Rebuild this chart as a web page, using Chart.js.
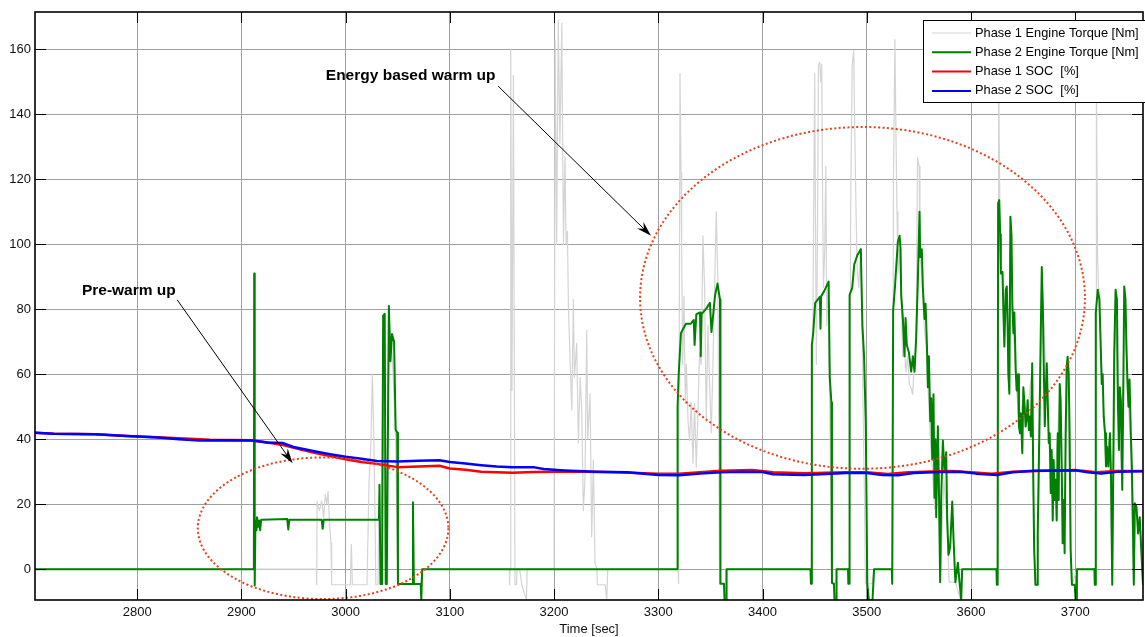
<!DOCTYPE html>
<html>
<head>
  <meta charset="UTF-8">
  <title>Engine Torque and SOC</title>
  <script src="https://cdn.jsdelivr.net/npm/chart.js"></script>
  <style>
    body { margin: 0; background: #fff; }
    #wrap { width: 1145px; height: 637px; }
  </style>
</head>
<body>
  <div id="wrap"><canvas id="torqueChart" width="1145" height="637"></canvas></div>

  <script>
    // [time sec, value] samples per series
    const phase1Torque = [
      [2702, 0], [2972, 0], [2972.3, -4.8], [2972.6, 20.8], [2975, 18], [2977, 21], [2979, 16], [2980.5, 23],
      [2982, 20], [2983.2, 23.9], [2984.5, 15], [2986, 8], [2986.6, -4.8], [3004.5, -4.8], [3005.5, 7.6],
      [3006.5, -4.8], [3020.5, -4.8], [3022.5, 27], [3024.3, 39], [3025.7, 60.1], [3027, 41.6], [3028, 20.7],
      [3029, -4.8], [3031, -4.8], [3032, 20], [3033.5, -4.6], [3036, 70], [3038.5, -4.6], [3041.5, 75],
      [3044.5, 68], [3048, 40], [3050.2, -4.6], [3072, -4.6], [3073.5, 0], [3157, 0], [3157.3, -4.8],
      [3157.8, 0], [3158.4, 160], [3159.6, 55], [3161, 152], [3162.5, -4.8], [3164, -4.8], [3164.5, 0],
      [3167, 0], [3169, -4.8], [3173.5, -9.5], [3174.2, 0], [3200, 0], [3201, 162.8], [3202.5, 100],
      [3204, 169], [3205.6, 131], [3207.4, 168], [3209, 100], [3210.5, 127], [3211.5, 100], [3212.8, 104],
      [3213.8, 80], [3215.4, 64], [3217, 49], [3218.5, 83], [3219.5, 59], [3221.7, 69.5], [3223.3, 38.8],
      [3225, 59], [3226.5, 49], [3228.1, 18], [3229.7, 28.5], [3231.3, 73.6], [3232.3, 40], [3234.5, 54],
      [3236.1, 10], [3237.7, 33.6], [3239.3, 1.8], [3241, 0], [3241.5, -4.8], [3249, -4.8], [3250.5, -9.5],
      [3251.5, 0], [3319, 0], [3319.3, -4.5], [3319.6, -4.5], [3320.8, 152.6], [3321.8, 122], [3322.4, 98.5],
      [3323.4, 63], [3324.6, 84], [3325.9, 51], [3326.9, 63], [3328.5, 45.5], [3330, 39.6], [3331.6, 51.4],
      [3333.2, 32.6], [3334.8, 51], [3336.4, 31.4], [3338, 47.9], [3339.6, 66.7], [3341.2, 63], [3342.8, 102.6],
      [3344.4, 86.7], [3346, 45.5], [3347.6, 75], [3349.2, 57], [3350.8, 42], [3352.4, 63], [3354, 86.7],
      [3355.6, 110], [3357.2, 88], [3358.8, -4.5], [3363, -4.5], [3364, -9.5], [3365, 0], [3446, 0],
      [3446.5, -4.5], [3450, 152.6], [3451.6, 63], [3452.6, 98.5], [3453.6, 155], [3454.9, 156], [3455.8, 150],
      [3456.8, 155.5], [3457.4, 122], [3458.4, 86.7], [3459.7, 98.5], [3460.7, 124], [3461.6, 75],
      [3463.2, 86.7], [3463.8, 63], [3464.4, 51.4], [3465.4, 24], [3466.3, -4.5], [3470, -4.5], [3471, 0],
      [3483, 0], [3483.3, -4.5], [3484.5, 110], [3486, 155], [3487.5, 159.6], [3488.5, 133.8], [3489.7, 110],
      [3490.7, 92.6], [3492.3, 86.7], [3493.9, 98.5], [3495.5, 75], [3496.4, 51], [3497.7, 24], [3498.7, -4.5],
      [3505, -4.5], [3507, 0], [3524.5, 0], [3524.8, -4.5], [3525.6, 120], [3527, 163], [3528, 133.8],
      [3529, 110], [3529.9, 91], [3531.2, 98.5], [3532.8, 86.7], [3534.4, 65.5], [3536, 69], [3537.6, 60.8],
      [3539.2, 65.5], [3540.8, 57], [3542.4, 55.8], [3544, 53.8], [3545.6, 63], [3547.2, 69], [3548.7, 126.7],
      [3550.3, 124], [3551, 96], [3553, 90], [3555, 75], [3557.5, 67], [3559, 54], [3561, 40], [3563, 30],
      [3565, 18.5], [3567, 35], [3569, 20], [3570.5, -4], [3574, 28], [3577, 14], [3579, -4], [3585, -4],
      [3590, -9.5], [3591.5, 0], [3626, 0], [3626.3, -4.8], [3626.6, 155], [3627.4, 120], [3628.3, 95],
      [3630, 90], [3632, 72], [3634, 85], [3636, 58], [3638, 104], [3640, 78], [3643, 58], [3646, 45],
      [3650, 52], [3654, 48], [3658, 60], [3660, 20], [3661.5, -4.8], [3664, -4.8], [3668, 88], [3672, 60],
      [3676, 30], [3680, 25], [3685, 52], [3689, 10], [3692.5, 60], [3695.5, 5], [3697, -4.8], [3701.6, 0],
      [3719.8, 0], [3720, -4.8], [3720.3, 148], [3721.5, 95], [3723, 80], [3726, 58], [3729, 35], [3733, 40],
      [3735.5, -4.8], [3738.7, 82], [3741, 50], [3745, 26], [3747, 84], [3750, 55], [3753, 40], [3756, -4.8],
      [3758, 18], [3762, 14], [3765, -4.8]
    ];

    const phase2Torque = [
      [2702, 0], [2912, 0], [2912.3, 91], [2912.8, -5], [2913.5, 15], [2914.5, 12], [2915, 16], [2916, 13],
      [2917, 15], [2918, 12], [2919, 15.2], [2944, 15.4], [2945, 12.2], [2946, 15.2], [2977, 15.2],
      [2978, 12.4], [2979, 15.2], [3032, 15.2], [3032.5, 26], [3033.5, -4.6], [3035, -4.6], [3036, 78],
      [3037.5, 78.6], [3038.5, -4.6], [3039.5, -4.6], [3041.5, 81], [3043, 64], [3044.5, 72.4], [3046.5, 70],
      [3048, 43], [3049.5, 42], [3050.2, -4.6], [3064, -4.6], [3064.6, 20.6], [3065.5, -4.6], [3072, -4.6],
      [3072.6, -9.5], [3073.5, 0], [3318, 0], [3318.5, 50], [3319.5, 59.6], [3321.7, 72.6], [3323.5, 73.8],
      [3326.5, 75.5], [3331, 75.5], [3334, 76.7], [3334.8, 69], [3336.5, 78.5], [3340, 79], [3340.7, 65.5],
      [3341.5, 78.5], [3346, 80.2], [3349.5, 82], [3351, 73], [3354.5, 84.4], [3356.8, 87.9], [3358.3, 84.7],
      [3359.2, 83], [3359.6, -4.5], [3363, -4.5], [3363.5, -9.5], [3365, -9.5], [3365.5, 0], [3446, 0],
      [3446.4, -4.5], [3447, -4.5], [3447.3, 69], [3448.6, 72.6], [3450.5, 82], [3455, 83.8], [3455.6, 74],
      [3456.2, 84], [3459, 85.5], [3463.4, 88.5], [3464.5, 59], [3466, 51.4], [3466.6, -4.2], [3468.5, -4.5],
      [3469, -9.5], [3470.5, -9.5], [3471, 0], [3482, 0], [3482.3, -4.5], [3483.2, -4.5], [3483.5, 84.4],
      [3486, 86.5], [3488, 93.8], [3491, 96.7], [3494.3, 98.5], [3495.8, 75], [3497.4, 65.5], [3499, 45.5],
      [3500.5, -4.5], [3502, -9.5], [3505.5, -9.5], [3507, 0], [3524, 0], [3524.4, -4.5], [3525, -4.5],
      [3525.3, 79.6], [3527, 86.7], [3529.8, 100.8], [3531.5, 102.6], [3532.4, 98.5], [3533, 84.5],
      [3534.6, 77.3], [3536.2, 65.5], [3537.2, 77.3], [3538.4, 69], [3540.4, 66.7], [3542.6, 60.8],
      [3544.2, 65.5], [3545.8, 60.8], [3547.4, 71.4], [3549, 89], [3550.6, 110], [3551.2, 96], [3552.8, 98.5],
      [3553.8, 86.7], [3555.4, 77], [3556.4, 81.7], [3557.7, 69], [3558.6, 56], [3559.6, 65.5], [3560.9, 45.5],
      [3561.8, 52.6], [3562.8, 33.8], [3564, 53.8], [3565, 22], [3565.9, 40], [3566.6, 16], [3568.2, 44],
      [3569.1, 28], [3570.4, -4], [3571.4, 22], [3573, 39.6], [3574.6, 30], [3576.2, 36], [3577.1, 16],
      [3578.4, 4.4], [3580, 6.8], [3582, 20.8], [3583.2, 9.6], [3585, -4], [3587.4, 2], [3589, -4],
      [3590.6, -9.5], [3591.5, 0], [3624.4, 0], [3624.8, -4.8], [3625.5, -4.8], [3626, 112.6], [3627, 113.6],
      [3628, 103], [3628.6, 91], [3630.2, 91.5], [3631.2, 77.7], [3632, 68.5], [3633.3, 86], [3634.3, 87],
      [3635.2, 74.7], [3635.8, 60.3], [3636.8, 54], [3637.8, 108.5], [3638.8, 103], [3639.7, 80.8],
      [3640.7, 72.6], [3641.6, 79], [3642.9, 61.3], [3643.8, 55], [3645.1, 60], [3646, 43.9], [3647, 41.8],
      [3647.9, 48], [3649.2, 35.7], [3650.2, 56], [3651.1, 52], [3652.4, 43.9], [3653.3, 46], [3654.3, 52],
      [3655.5, 42.8], [3656.5, 47], [3657.4, 40.8], [3658.7, 63.4], [3659.6, 31.6], [3660.6, 6], [3661.8, -4.8],
      [3663.4, -4.8], [3664, 11], [3665, 31.6], [3666, 52], [3666.9, 72.6], [3667.9, 93], [3668.9, 81],
      [3669.8, 62.6], [3670.8, 44], [3671.7, 54.4], [3672.7, 63.4], [3673.6, 52], [3674.6, 38.8], [3675.5, 41.8],
      [3676.5, 23.4], [3677.4, 36.7], [3678.4, 15], [3679.3, 33.6], [3680.3, 21.3], [3681.2, 27.5], [3682.2, 15],
      [3683.2, 41.8], [3684.1, 21.3], [3685.1, 57], [3686, 52], [3687, 31.6], [3687.9, 8], [3688.9, 21.3],
      [3689.8, 4.9], [3690.8, 41.8], [3691.8, 62.4], [3692.7, 65.4], [3693.7, 60.3], [3694.6, 41.8],
      [3695.6, 5.9], [3696.8, -4.8], [3699.5, -4.8], [3700.3, -9.5], [3701, -9.5], [3701.6, 0], [3718.4, 0],
      [3718.7, -4.8], [3719.3, -4.8], [3719.7, 78.8], [3721.6, 86], [3723.2, 83], [3724.1, 72.6], [3725.4, 57],
      [3726.3, 60], [3727.3, 47], [3728.6, 41.8], [3729.5, 31.6], [3730.5, 37.7], [3731.7, 31.6], [3733.3, 41.8],
      [3734.3, 28.5], [3735.5, -4.8], [3736.5, 31.6], [3737.4, 66.5], [3738.7, 86], [3740, 83], [3740.9, 52],
      [3741.9, 36.7], [3742.8, 56], [3743.8, 52], [3745.1, 24.4], [3746, 52], [3747, 87], [3748.2, 83],
      [3749.2, 67.5], [3750.2, 57], [3751.1, 50], [3752.1, 58.4], [3753.3, 41.8], [3754.3, 31.6], [3755.2, 16],
      [3756.2, -4.8], [3757.1, 20.3], [3758.7, 19.3], [3760.3, 11], [3761.9, 16], [3763.5, 4.9], [3765, -4.8]
    ];

    const phase1Soc = [
      [2702, 42.0], [2720, 41.7], [2760, 41.5], [2790, 41.0], [2820, 40.6], [2850, 40.1], [2870, 39.8],
      [2910, 39.7], [2925, 39.0], [2940, 38.2], [2955, 37.0], [2970, 35.8], [2985, 34.8], [3000, 33.8],
      [3015, 33.0], [3030, 32.4], [3050, 31.4], [3070, 31.6], [3090, 31.8], [3100, 31.0], [3115, 30.6],
      [3130, 30.0], [3145, 29.8], [3160, 29.7], [3180, 29.9], [3200, 30.0], [3230, 30.0], [3260, 29.8],
      [3300, 29.4], [3320, 29.4], [3340, 29.8], [3360, 30.3], [3390, 30.5], [3410, 29.8], [3440, 29.5],
      [3480, 29.8], [3500, 29.8], [3520, 29.3], [3540, 29.8], [3580, 30.2], [3600, 29.8], [3620, 29.4],
      [3640, 30.0], [3680, 30.4], [3700, 30.5], [3720, 29.8], [3740, 30.2], [3765, 30.2]
    ];

    const phase2Soc = [
      [2702, 42.0], [2720, 41.7], [2760, 41.5], [2790, 41.0], [2820, 40.5], [2840, 40.0], [2860, 39.6],
      [2880, 39.7], [2910, 39.6], [2925, 39.0], [2940, 38.8], [2950, 37.6], [2970, 36.3], [2985, 35.4],
      [3000, 34.6], [3015, 34.0], [3030, 33.3], [3050, 33.1], [3070, 33.4], [3090, 33.5], [3100, 33.0],
      [3115, 32.5], [3130, 32.0], [3145, 31.6], [3160, 31.4], [3180, 31.4], [3190, 30.8], [3210, 30.4],
      [3240, 30.0], [3270, 29.8], [3300, 29.0], [3320, 28.9], [3340, 29.4], [3360, 29.8], [3380, 30.0],
      [3400, 29.9], [3410, 29.2], [3440, 29.0], [3460, 29.3], [3480, 29.6], [3500, 29.6], [3515, 29.0],
      [3530, 28.9], [3545, 29.6], [3570, 29.9], [3590, 30.0], [3605, 29.4], [3625, 29.0], [3640, 29.8],
      [3660, 30.3], [3700, 30.4], [3712, 29.8], [3725, 29.4], [3740, 30.0], [3765, 30.1]
    ];

    const seriesNames = ['Phase 1 Engine Torque [Nm]', 'Phase 2 Engine Torque [Nm]', 'Phase 1 SOC  [%]', 'Phase 2 SOC  [%]'];
    const xTicks = [2800, 2900, 3000, 3100, 3200, 3300, 3400, 3500, 3600, 3700];
    const yTicks = [0, 20, 40, 60, 80, 100, 120, 140, 160];

    const FONT = "Arial, 'Liberation Sans', sans-serif";
    const colors = ['#d4d4d4', '#008000', '#ff0000', '#0000ff'];
    const widths = [1.2, 2, 2.5, 2.5];

    // dotted ellipses and arrows, in data units
    const notes = {
      ellipses: [
        { cx: 2978.4, cy: 12.6, rx: 120.2, ry: 21.8 },
        { cx: 3495.9, cy: 83.5, rx: 213.4, ry: 52.6 }
      ],
      labels: [
        { text: 'Energy based warm up', x: 2981, y: 151.8, from: [3146.3, 148.7], to: [3293, 102.6] },
        { text: 'Pre-warm up', x: 2747, y: 85.7, from: [2838.4, 82.9], to: [2949.2, 32.6] }
      ]
    };

    const toPoints = arr => arr.map(([x, y]) => ({ x, y }));

    const notesPlugin = {
      id: 'notes',
      afterDatasetsDraw(chart) {
        const { ctx, scales: { x, y } } = chart;
        ctx.save();
        // dotted ellipses
        ctx.strokeStyle = '#e4401c';
        ctx.lineWidth = 2;
        ctx.setLineDash([2, 2.4]);
        notes.ellipses.forEach(e => {
          const cx = x.getPixelForValue(e.cx), cy = y.getPixelForValue(e.cy);
          const rx = Math.abs(x.getPixelForValue(e.cx + e.rx) - cx);
          const ry = Math.abs(y.getPixelForValue(e.cy + e.ry) - cy);
          ctx.beginPath();
          ctx.ellipse(cx, cy, rx, ry, 0, 0, Math.PI * 2);
          ctx.stroke();
        });
        ctx.setLineDash([]);

        // arrows with labels
        notes.labels.forEach(n => {
          const x0 = x.getPixelForValue(n.from[0]), y0 = y.getPixelForValue(n.from[1]);
          const x1 = x.getPixelForValue(n.to[0]), y1 = y.getPixelForValue(n.to[1]);
          const ang = Math.atan2(y1 - y0, x1 - x0);
          const len = 15, half = 4.5, notch = 10;
          ctx.strokeStyle = '#000';
          ctx.lineWidth = 1;
          ctx.beginPath();
          ctx.moveTo(x0, y0);
          ctx.lineTo(x1 - Math.cos(ang) * notch, y1 - Math.sin(ang) * notch);
          ctx.stroke();
          ctx.fillStyle = '#000';
          ctx.beginPath();
          ctx.moveTo(x1, y1);
          ctx.lineTo(x1 - Math.cos(ang) * len - Math.sin(ang) * half, y1 - Math.sin(ang) * len + Math.cos(ang) * half);
          ctx.lineTo(x1 - Math.cos(ang) * notch, y1 - Math.sin(ang) * notch);
          ctx.lineTo(x1 - Math.cos(ang) * len + Math.sin(ang) * half, y1 - Math.sin(ang) * len - Math.cos(ang) * half);
          ctx.closePath();
          ctx.fill();

          ctx.font = 'bold 15.5px ' + FONT;
          ctx.textAlign = 'left';
          ctx.textBaseline = 'middle';
          ctx.fillText(n.text, x.getPixelForValue(n.x), y.getPixelForValue(n.y));
        });
        ctx.restore();
      }
    };

    // axes box, inward ticks and the legend box
    const framePlugin = {
      id: 'frame',
      afterDraw(chart) {
        const { ctx, chartArea: a, scales: { x, y } } = chart;
        const tick = 11;
        ctx.save();
        ctx.strokeStyle = '#000';
        ctx.lineWidth = 1;
        ctx.beginPath();
        xTicks.forEach(v => {
          const px = Math.round(x.getPixelForValue(v)) + 0.5;
          ctx.moveTo(px, a.bottom); ctx.lineTo(px, a.bottom - tick);
          ctx.moveTo(px, a.top); ctx.lineTo(px, a.top + tick);
        });
        yTicks.forEach(v => {
          const py = Math.round(y.getPixelForValue(v)) + 0.5;
          ctx.moveTo(a.left, py); ctx.lineTo(a.left + tick, py);
          ctx.moveTo(a.right, py); ctx.lineTo(a.right - tick, py);
        });
        ctx.stroke();
        ctx.lineWidth = 1.6;
        ctx.strokeRect(a.left, a.top, a.right - a.left, a.bottom - a.top);

        // legend
        const bx = 923.5, by = 20.5, bw = 222, bh = 82;
        ctx.fillStyle = '#fff';
        ctx.fillRect(bx, by, bw, bh);
        ctx.lineWidth = 1;
        ctx.strokeRect(bx, by, bw, bh);
        ctx.font = '12.8px ' + FONT;
        ctx.textAlign = 'left';
        ctx.textBaseline = 'middle';
        seriesNames.forEach((name, i) => {
          const ry = 33 + i * 19.3;
          ctx.strokeStyle = colors[i];
          ctx.lineWidth = i === 0 ? 1.2 : 2;
          ctx.beginPath();
          ctx.moveTo(932, ry); ctx.lineTo(971, ry);
          ctx.stroke();
          ctx.fillStyle = '#000';
          ctx.fillText(name, 975, ry);
        });
        ctx.restore();
      }
    };

    const series = [phase1Torque, phase2Torque, phase1Soc, phase2Soc];
    const drawOrder = [4, 3, 2, 1]; // lower order is drawn on top

    new Chart(document.getElementById('torqueChart').getContext('2d'), {
      type: 'line',
      data: {
        datasets: series.map((s, i) => ({
          label: seriesNames[i],
          data: toPoints(s),
          borderColor: colors[i],
          borderWidth: widths[i],
          borderJoinStyle: 'round',
          pointRadius: 0,
          fill: false,
          tension: 0,
          order: drawOrder[i]
        }))
      },
      options: {
        responsive: false,
        animation: false,
        layout: { padding: { top: 12, right: 2, left: 0, bottom: 0 } },
        plugins: { legend: { display: false }, tooltip: { enabled: false } },
        scales: {
          x: {
            type: 'linear',
            min: 2702,
            max: 3765,
            afterFit: s => { s.height = 37; },
            afterBuildTicks: s => { s.ticks = xTicks.map(v => ({ value: v })); },
            border: { display: false },
            grid: { color: '#a0a0a0', lineWidth: 1, drawTicks: false },
            ticks: {
              autoSkip: false, maxRotation: 0, padding: 5, color: '#111',
              font: { family: FONT, size: 13 },
              callback: v => String(v)
            },
            title: { display: true, text: 'Time [sec]', color: '#111', padding: { top: 0, bottom: 0 }, font: { family: FONT, size: 13 } }
          },
          y: {
            min: -9.5,
            max: 171.5,
            afterFit: s => { s.width = 35; },
            afterBuildTicks: s => { s.ticks = yTicks.map(v => ({ value: v })); },
            border: { display: false },
            grid: { color: '#a0a0a0', lineWidth: 1, drawTicks: false },
            ticks: {
              autoSkip: false, padding: 4, color: '#111',
              font: { family: FONT, size: 13 },
              callback: v => String(v)
            }
          }
        }
      },
      plugins: [notesPlugin, framePlugin]
    });
  </script>
</body>
</html>
